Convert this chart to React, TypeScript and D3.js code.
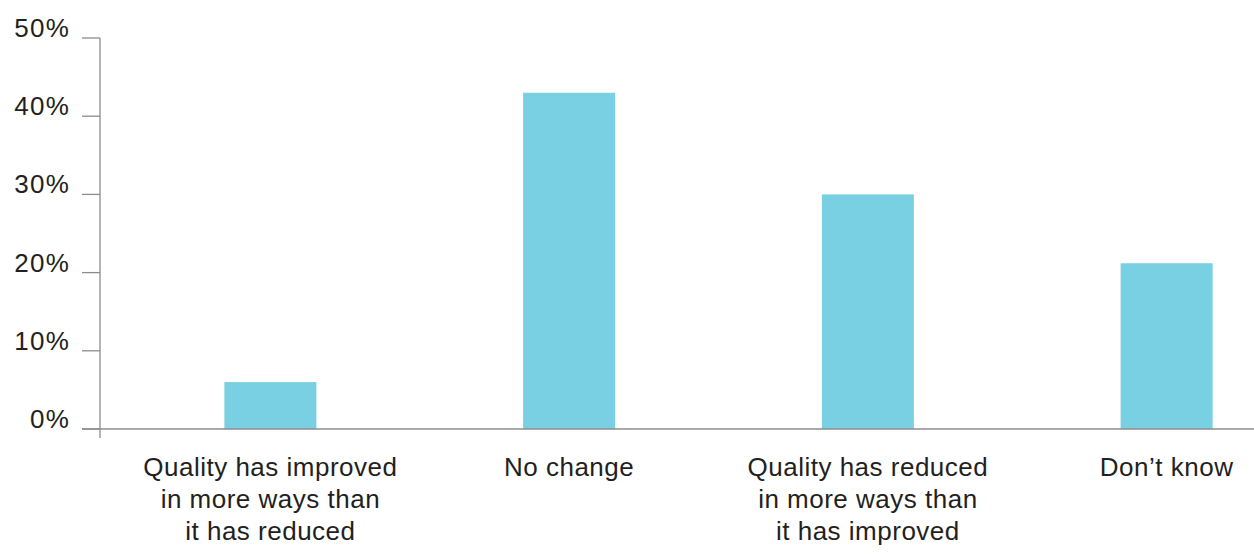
import React from "react";
import * as d3 from "d3";

const categories: string[][] = [
  ["Quality has improved", "in more ways than", "it has reduced"],
  ["No change"],
  ["Quality has reduced", "in more ways than", "it has improved"],
  ["Don\u2019t know"],
];
const values: number[] = [6.0, 43.0, 30.0, 21.2];
const yTicks: number[] = [0, 10, 20, 30, 40, 50];

const W = 1254;
const H = 554;
const FONT = "'Liberation Sans', Arial, sans-serif";
const TEXT = "#231f20";
const AXIS = "#8c8c8c";
const BAR = "#79d0e2";

export default function App() {
  const y = d3.scaleLinear().domain([0, 50]).range([429, 38]);
  const x = d3
    .scaleBand<number>()
    .domain(values.map((_, i) => i))
    .range([121, 1316])
    .paddingInner(0.692)
    .paddingOuter(0.346);
  const axisX = 100;

  return (
    <svg
      width={W}
      height={H}
      style={{ position: "absolute", left: 0, top: 0, background: "#fff" }}
      fontFamily={FONT}
    >
      {values.map((v, i) => (
        <rect
          key={i}
          x={x(i)}
          y={y(v)}
          width={x.bandwidth()}
          height={y(0) - y(v)}
          fill={BAR}
        />
      ))}
      <line x1={axisX} x2={axisX} y1={y(50)} y2={438} stroke={AXIS} strokeWidth={1.3} />
      <line x1={82} x2={W} y1={y(0)} y2={y(0)} stroke={AXIS} strokeWidth={1.3} />
      {yTicks.map((t) => (
        <g key={t}>
          <line x1={82} x2={axisX} y1={y(t)} y2={y(t)} stroke={AXIS} strokeWidth={1.3} />
          <text
            x={70}
            y={y(t) - 1}
            textAnchor="end"
            fontSize={26}
            letterSpacing={1.2}
            fill={TEXT}
          >
            {t}%
          </text>
        </g>
      ))}
      {categories.map((lines, i) => (
        <text
          key={i}
          x={(x(i) as number) + x.bandwidth() / 2}
          y={476}
          textAnchor="middle"
          fontSize={26}
          letterSpacing={0.5}
          fill={TEXT}
        >
          {lines.map((l, j) => (
            <tspan key={j} x={(x(i) as number) + x.bandwidth() / 2} dy={j === 0 ? 0 : 32}>
              {l}
            </tspan>
          ))}
        </text>
      ))}
    </svg>
  );
}
